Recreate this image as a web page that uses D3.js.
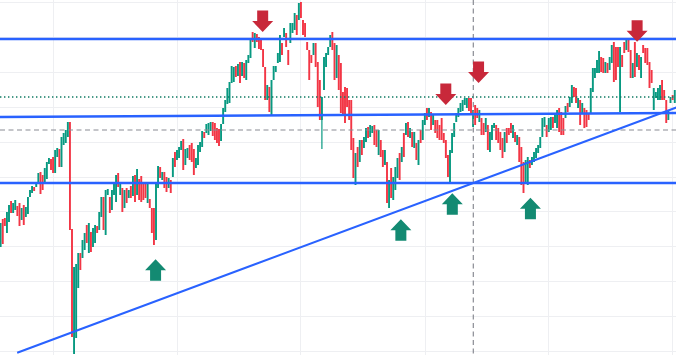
<!DOCTYPE html>
<html>
<head>
<meta charset="utf-8">
<script src="https://cdn.jsdelivr.net/npm/d3@7"></script>
<style>
  html, body { margin: 0; padding: 0; background: #fff; overflow: hidden; }
</style>
</head>
<body>
<svg id="chart" width="676" height="355"></svg>
<script>
// candle series (price units)
const opens = [
  153,181,182,167,178,199,187,190,194,197, 180,195,183,186,203,207,213,213,218,228,
  225,218,221,236,241,243,227,243,251,233, 255,257,263,278,171,46,62,112,147,142,
  150,175,147,168,153,157,174,170,183,203, 165,205,203,190,205,198,227,205,212,192,
  212,202,214,204,225,205,221,224,217,216, 197,201,192,192,160,212,233,220,228,223,
  212,220,223,248,240,242,250,261,235,242, 255,257,251,232,235,248,253,268,267,265,
  269,278,277,272,271,259,276,288,296,297, 317,318,334,324,338,324,337,320,337,342,
  368,352,366,363,361,351,333,300,313,285, 320,328,337,338,357,363,367,350,357,367,
  370,385,380,398,380,377,358,350,345,345, 357,338,320,280,310,333,345,353,368,357,
  322,345,337,308,313,312,300,300,262,215, 253,238,260,252,258,273,263,267,275,270,
  245,260,250,235,238,192,232,200,210,222, 247,238,267,265,278,262,268,252,257,235,
  270,260,275,292,283,288,275,280,280,275, 282,267,260,245,218,247,263,278,283,288,
  289,295,292,302,302,273,295,292,278,282, 277,268,275,248,260,272,275,272,268,262,
  248,272,272,277,262,268,255,263,253,238, 218,215,240,235,238,242,247,252,263,273,
  275,268,270,283,277,272,292,288,282,282, 297,293,297,313,312,292,300,287,292,290,
  287,287,308,322,327,327,343,342,327,337, 330,337,358,353,353,288,345,358,350,362,
  350,322,358,333,345,322,355,352,352,338, 330,290,302,300,300,320,310,300,280,297,
  305,297
];
const highs = [
  177,181,182,188,195,199,197,200,194,197, 192,195,193,203,210,214,213,218,227,228,
  225,232,238,242,241,243,250,252,251,263, 267,270,278,278,171,133,136,147,147,160,
  167,175,177,168,172,175,174,188,203,203, 210,211,203,210,217,225,227,218,212,210,
  212,210,214,224,225,231,221,224,217,216, 217,201,192,192,217,234,233,228,228,223,
  222,220,242,248,250,253,259,261,251,252, 255,257,251,242,255,258,269,268,276,277,
  278,278,277,272,271,276,292,300,312,318, 334,333,334,336,338,338,337,340,345,362,
  368,367,366,363,361,351,333,315,313,320, 334,334,347,365,357,372,367,350,377,377,
  387,385,397,398,380,377,358,350,345,357, 357,338,320,303,343,347,353,365,368,357,
  355,345,337,308,313,312,300,300,262,247, 253,260,260,263,272,273,275,274,275,270,
  270,260,250,250,238,220,232,223,233,242, 247,253,267,277,278,272,268,268,257,260,
  270,280,287,292,292,288,285,280,280,275, 282,267,260,245,250,267,277,287,292,297,
  300,302,302,302,302,290,295,292,290,282, 277,282,275,268,275,277,275,272,268,262,
  268,272,272,277,275,268,265,263,253,238, 240,243,240,243,248,252,255,263,282,283,
  275,282,283,283,285,290,292,288,282,294, 297,303,315,313,312,302,300,297,292,290,
  287,312,332,332,340,349,343,342,338,337, 343,355,358,353,353,353,345,358,362,362,
  350,337,358,347,345,343,355,352,352,338, 330,312,308,312,315,320,310,300,290,303,
  305,310
];
const lows = [
  153,156,174,167,178,187,187,190,184,174, 180,175,183,186,203,207,209,213,218,206,
  210,218,221,236,230,227,227,243,233,233, 255,257,263,170,63,46,62,112,130,142,
  150,157,147,148,153,157,167,170,183,170, 165,205,187,190,205,198,213,205,188,192,
  197,202,202,204,198,205,200,198,200,202, 197,192,167,155,160,212,222,220,212,208,
  212,207,223,233,240,242,250,230,235,242, 240,238,225,232,235,248,253,262,267,265,
  269,264,260,257,254,259,276,288,296,297, 317,318,323,324,317,324,322,320,337,342,
  358,352,358,351,350,333,300,300,288,285, 320,328,337,338,345,363,353,335,357,367,
  370,365,380,382,365,363,350,320,337,345, 333,293,280,251,310,333,345,353,350,320,
  322,310,287,285,277,293,280,250,222,215, 233,238,245,252,258,262,263,267,255,253,
  245,243,233,235,197,192,202,200,210,222, 220,238,243,265,263,262,253,252,240,235,
  257,260,275,280,283,270,275,267,262,260, 260,257,242,223,218,247,263,278,283,288,
  289,295,292,289,285,273,275,282,278,265, 265,268,250,248,260,272,260,257,250,242,
  248,257,265,267,262,258,255,238,215,207, 218,215,232,235,238,242,247,252,263,273,
  263,268,270,272,277,272,268,265,265,282, 288,293,297,303,297,292,275,287,272,273,
  280,287,308,322,327,327,328,327,327,327, 330,337,318,320,333,288,333,347,350,348,
  322,322,323,333,330,322,347,337,335,312, 317,290,302,300,300,300,300,277,280,297,
  300,297
];
const closes = [
  177,156,174,188,195,187,197,200,184,174, 192,175,193,203,210,214,209,218,227,206,
  210,232,238,242,230,227,250,252,233,263, 267,270,278,170,63,133,136,147,130,160,
  167,157,177,148,172,175,167,188,203,170, 210,211,187,210,217,225,213,218,188,210,
  197,210,202,224,198,231,200,198,200,202, 217,192,167,155,217,234,222,228,212,208,
  222,207,242,233,250,253,259,230,251,252, 240,238,225,242,255,258,269,262,276,277,
  278,264,260,257,254,276,292,300,312,318, 334,333,323,336,317,338,322,340,345,362,
  358,367,358,351,350,333,300,315,288,320, 334,334,347,365,345,372,353,335,377,377,
  387,365,397,382,365,363,350,320,337,357, 333,293,280,303,343,347,353,365,350,320,
  355,310,287,285,277,293,280,250,222,247, 233,260,245,263,272,262,275,274,255,253,
  270,243,233,250,197,220,202,223,233,242, 220,253,243,277,263,272,253,268,240,260,
  257,280,287,280,292,270,285,267,262,260, 260,257,242,223,250,267,277,287,292,297,
  300,302,302,289,285,290,275,282,290,265, 265,282,250,268,275,277,260,257,250,242,
  268,257,265,267,275,258,265,238,215,207, 240,243,232,243,248,252,255,263,282,283,
  263,282,283,272,285,290,268,265,265,294, 288,303,315,303,297,302,275,297,272,273,
  280,312,332,332,340,349,328,327,338,327, 343,355,318,320,333,353,333,347,362,348,
  322,337,323,347,330,343,347,337,335,312, 317,312,308,312,315,300,300,277,290,303,
  300,310
];

// grid ticks
const gridPrices = [398, 363, 328, 293, 258, 223, 189, 154, 119, 84, 49];
const gridBars = [25, 84, 142.6, 202.1, 260.7, 319.8];

// drawings
const flatLevels = [361, 217];
const trendLines = [
  { bar0: -1, price0: 283, bar1: 323, price1: 287 },
  { bar0: 7.9, price0: 47.3, bar1: 323, price1: 293.4 }
];
const dottedLevel = 303;
const crossBar = 225.1, crossPrice = 270;
const downArrows = [[124.8, 368], [212, 295], [227.6, 317], [303.1, 358.3]];
const upArrows = [[73.8, 140.7], [190.6, 180.7], [215.1, 206.7], [252.3, 202.3]];

function init() {
    chart();
}

function chart() {
    const width = 676, height = 355;
    const n = Math.min(opens.length, highs.length, lows.length, closes.length);

    const x = d3.scaleLinear().domain([0, 321]).range([0.6, 674.7]);
    const y = d3.scaleLinear().domain([45, 400]).range([height, 0]);

    const svg = d3.select("#chart");

    // grid
    const grid = svg.append("g").attr("stroke", "#eeeff2").attr("stroke-width", 1).attr("shape-rendering", "crispEdges");
    grid.selectAll(".gh").data(gridPrices).join("line")
        .attr("x1", 0).attr("x2", width)
        .attr("y1", d => Math.round(y(d)) + 0.5).attr("y2", d => Math.round(y(d)) + 0.5);
    grid.selectAll(".gv").data(gridBars).join("line")
        .attr("y1", 0).attr("y2", height)
        .attr("x1", d => Math.round(x(d)) + 0.5).attr("x2", d => Math.round(x(d)) + 0.5);

    // candles
    const data = d3.range(n).map(i => ({ i: i, o: opens[i], h: highs[i], l: lows[i], c: closes[i] }));
    const col = d => d.c >= d.o ? "#089981" : "#f23645";
    const candles = svg.append("g");
    candles.selectAll("line").data(data).join("line")
        .attr("x1", d => x(d.i)).attr("x2", d => x(d.i))
        .attr("y1", d => y(d.h)).attr("y2", d => y(d.l))
        .attr("stroke", col).attr("stroke-width", 1.2);
    candles.selectAll("rect").data(data).join("rect")
        .attr("x", d => x(d.i) - 0.9)
        .attr("width", 1.8)
        .attr("y", d => y(Math.max(d.o, d.c)))
        .attr("height", d => Math.max(1, Math.abs(y(d.o) - y(d.c))))
        .attr("fill", col);

    // crosshair style dashed lines
    svg.append("line")
        .attr("x1", 0).attr("x2", width)
        .attr("y1", y(crossPrice)).attr("y2", y(crossPrice))
        .attr("stroke", "#8a8c94").attr("stroke-width", 1.2).attr("stroke-dasharray", "5,3.5");
    svg.append("line")
        .attr("x1", x(crossBar)).attr("x2", x(crossBar))
        .attr("y1", 0).attr("y2", height)
        .attr("stroke", "#8a8c94").attr("stroke-width", 1.2).attr("stroke-dasharray", "5,3.5");

    // dotted price line
    svg.append("line")
        .attr("x1", 0).attr("x2", width)
        .attr("y1", y(dottedLevel)).attr("y2", y(dottedLevel))
        .attr("stroke", "#0e7a62").attr("stroke-width", 1.3).attr("stroke-dasharray", "1.4,2.6");

    // levels and trend lines
    svg.selectAll(".level").data(flatLevels).join("line")
        .attr("class", "level")
        .attr("x1", 0).attr("x2", width)
        .attr("y1", d => y(d)).attr("y2", d => y(d))
        .attr("stroke", "#2962ff").attr("stroke-width", 2.6);
    svg.selectAll(".trend").data(trendLines).join("line")
        .attr("class", "trend")
        .attr("x1", d => x(d.bar0)).attr("y1", d => y(d.price0))
        .attr("x2", d => x(d.bar1)).attr("y2", d => y(d.price1))
        .attr("stroke", "#2962ff").attr("stroke-width", (d, k) => k === 0 ? 2.6 : 2);

    // arrows
    const down = "M0,0 L-10.5,-11 L-5.5,-11 L-5.5,-21.5 L5.5,-21.5 L5.5,-11 L10.5,-11 Z";
    const up = "M0,0 L-10.5,11 L-5.5,11 L-5.5,21.5 L5.5,21.5 L5.5,11 L10.5,11 Z";
    svg.selectAll(".down").data(downArrows).join("path")
        .attr("class", "down")
        .attr("d", down)
        .attr("transform", d => "translate(" + x(d[0]) + "," + y(d[1]) + ")")
        .attr("fill", "#c8283a");
    svg.selectAll(".up").data(upArrows).join("path")
        .attr("class", "up")
        .attr("d", up)
        .attr("transform", d => "translate(" + x(d[0]) + "," + y(d[1]) + ")")
        .attr("fill", "#138a72");
}

window.onload = init;
</script>
</body>
</html>
